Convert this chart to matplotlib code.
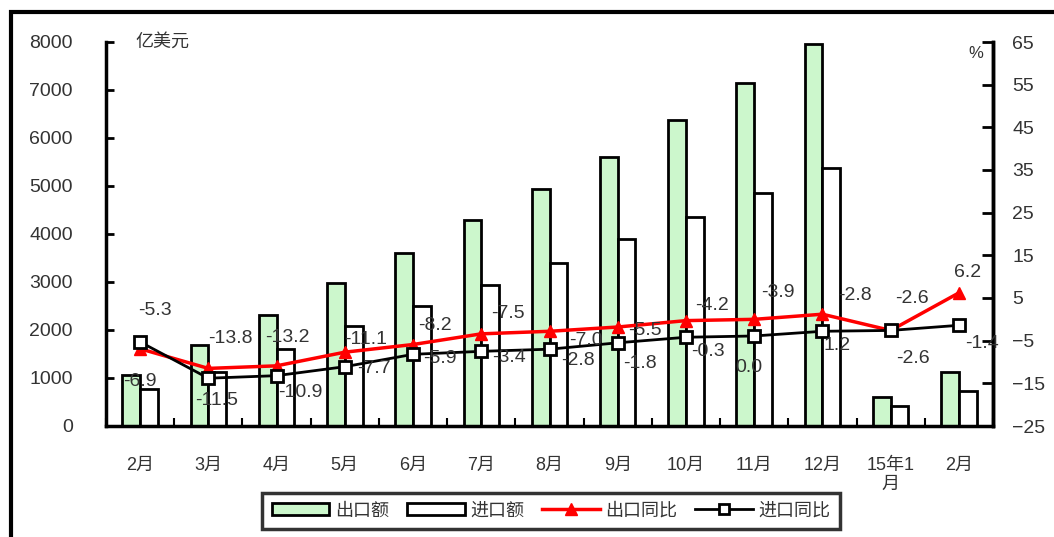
import numpy as np
import matplotlib
matplotlib.use('Agg')
import matplotlib.pyplot as plt
from matplotlib.patches import Rectangle, Patch
from matplotlib.lines import Line2D

plt.rcParams['font.family'] = ['Liberation Sans', 'Noto Sans CJK SC', 'DejaVu Sans']

months = ['2月', '3月', '4月', '5月', '6月', '7月', '8月', '9月', '10月',
          '11月', '12月', '15年1\n月', '2月']
# 亿美元
export_val = [1060, 1690, 2310, 2980, 3600, 4290, 4940, 5600, 6370, 7140, 7950, 600, 1120]
import_val = [770, 1130, 1600, 2080, 2500, 2940, 3400, 3900, 4360, 4850, 5370, 420, 730]
# %
export_yoy = [-6.9, -11.5, -10.9, -7.7, -5.9, -3.4, -2.8, -1.8, -0.3, 0.0, 1.2, -2.6, 6.2]
import_yoy = [-5.3, -13.8, -13.2, -11.1, -8.2, -7.5, -7.0, -5.5, -4.2, -3.9, -2.8, -2.6, -1.4]

# label offsets in pixels (dx, dy down)
exp_off = [(0, 33), (8, 32), (24, 27), (29, 16), (27, 14), (28, 24), (28, 29),
           (22, 36), (22, 31), (-5, 48), (15, 31), (22, 28), (9, -20)]
imp_off = [(15, -31), (22, -40), (11, -38), (21, -27), (22, -29), (27, -38), (36, -9),
           (27, -12), (26, -32), (24, -43), (33, -36), (21, -32), (23, 18)]

green = '#ccf7cc'
txt = '#333333'

fig = plt.figure(figsize=(10.54, 5.37), dpi=100)
ax = fig.add_axes([106/1054, 1-426/537, (993-106)/1054, (426-42)/537])
x = np.arange(len(months))
w = 0.26
ax.bar(x - w/2, export_val, w, color=green, edgecolor='black', linewidth=2)
ax.bar(x + w/2, import_val, w, color='white', edgecolor='black', linewidth=2)
ax.set_xlim(-0.5, len(months) - 0.5)
ax.set_ylim(0, 8000)
ax.set_yticks(range(0, 8001, 1000))
ax.set_xticks(x)
ax.set_xticklabels(months, fontsize=13, color=txt)
ax.set_xticks(np.arange(-0.5, len(months), 1), minor=True)
ax.tick_params(axis='x', which='major', length=0, pad=22)
ax.tick_params(axis='x', which='minor', direction='in', length=6, width=1.5)
ax.tick_params(axis='y', direction='in', length=6, width=2, labelsize=14,
               labelcolor=txt, pad=24)
ax.spines['top'].set_visible(False)
for s in ['left', 'bottom', 'right']:
    ax.spines[s].set_linewidth(2.5)

ax2 = ax.twinx()
ax2.plot(x, export_yoy, color='red', lw=2.5, marker='^', ms=9, mfc='red', mec='red')
ax2.plot(x, import_yoy, color='black', lw=2, marker='s', ms=8, mfc='white',
         mec='black', mew=2)
ax2.set_ylim(-25, 65)
ax2.set_yticks(range(-25, 66, 10))
ax2.tick_params(axis='y', direction='in', length=8, width=2, labelsize=14,
                labelcolor=txt, pad=14)
ax2.spines['top'].set_visible(False)
ax2.spines['right'].set_linewidth(2.5)

for i in range(len(months)):
    dx, dy = exp_off[i]
    ax2.annotate(f'{export_yoy[i]:.1f}', (x[i], export_yoy[i]), xytext=(dx, -dy),
                 textcoords='offset pixels', ha='center', va='center',
                 fontsize=14, color=txt)
    dx, dy = imp_off[i]
    ax2.annotate(f'{import_yoy[i]:.1f}', (x[i], import_yoy[i]), xytext=(dx, -dy),
                 textcoords='offset pixels', ha='center', va='center',
                 fontsize=14, color=txt)

fig.text(135/1054, 1-42/537, '亿美元', fontsize=13, color=txt, ha='left', va='center')
fig.text(976/1054, 1-53/537, '%', fontsize=12, color=txt, ha='center', va='center')

handles = [Patch(facecolor=green, edgecolor='black', linewidth=2),
           Patch(facecolor='white', edgecolor='black', linewidth=2),
           Line2D([], [], color='red', lw=2.5, marker='^', ms=9, mfc='red', mec='red'),
           Line2D([], [], color='black', lw=2, marker='s', ms=7, mfc='white', mec='black', mew=2)]
leg = fig.legend(handles, ['出口额', '进口额', '出口同比', '进口同比'], ncol=4,
                 loc='center', bbox_to_anchor=(551/1054, 1-511/537), fontsize=13,
                 frameon=True, fancybox=False, edgecolor='black',
                 handlelength=3.2, handleheight=0.6, columnspacing=1.0,
                 handletextpad=0.3, borderpad=0.5)
leg.get_frame().set_linewidth(2.5)
for t in leg.get_texts():
    t.set_color(txt)

fig.add_artist(Rectangle((11/1054, -0.1), 1.2, 1 - 12/537 + 0.1,
                         transform=fig.transFigure, fill=False, lw=3, color='black'))

fig.savefig('out.png', dpi=100)
